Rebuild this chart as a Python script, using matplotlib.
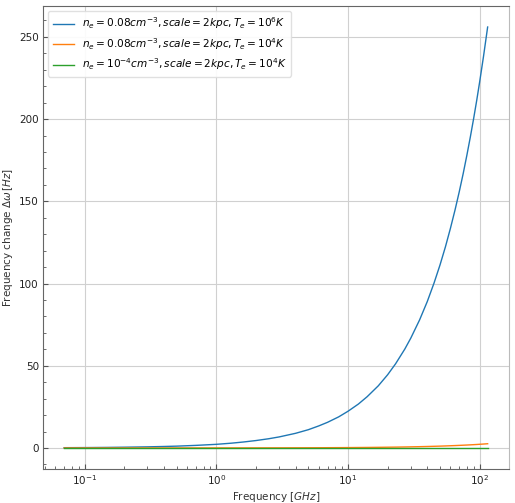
import matplotlib
matplotlib.use("Agg")
import matplotlib.pyplot as plt
from matplotlib.ticker import MultipleLocator

# Frequencies in GHz
freq = [0.07, 0.1, 0.15, 0.2, 0.3, 0.4, 0.5, 0.7, 1, 1.3, 1.6, 2, 2.5, 3, 4, 5,
        6, 7, 8.5, 10, 12, 14, 17, 20, 23, 27, 30, 35, 40, 45, 50, 55, 60, 65,
        70, 75, 80, 85, 90, 95, 100, 107, 115]
# Frequency change [Hz]
blue = [0.16, 0.22, 0.33, 0.45, 0.67, 0.89, 1.1, 1.56, 2.2, 2.9, 3.6, 4.5, 5.6,
        6.7, 8.9, 11.1, 13.4, 15.6, 18.9, 22.3, 26.7, 31.2, 37.8, 44.5, 51.2,
        60.1, 66.8, 77.9, 89.0, 100.2, 111.3, 122.4, 133.6, 144.7, 155.8,
        166.9, 178.1, 189.2, 200.3, 211.4, 222.6, 238.2, 256.0]
orange = [0.002, 0.002, 0.003, 0.005, 0.007, 0.009, 0.011, 0.016, 0.022, 0.03,
          0.036, 0.045, 0.056, 0.067, 0.089, 0.11, 0.13, 0.16, 0.19, 0.22, 0.27,
          0.31, 0.38, 0.45, 0.51, 0.6, 0.67, 0.78, 0.89, 1.0, 1.11, 1.22, 1.34,
          1.45, 1.56, 1.67, 1.78, 1.89, 2.0, 2.11, 2.23, 2.38, 2.56]
green = [0.0] * len(freq)

labels = [r'$n_e = 0.08cm^{-3}, scale = 2kpc, T_e = 10^6K$',
          r'$n_e = 0.08cm^{-3}, scale = 2kpc, T_e = 10^4K$',
          r'$n_e = 10^{-4}cm^{-3}, scale = 2kpc, T_e = 10^4K$']

fig = plt.figure(figsize=(5.15, 5.03), dpi=100)
ax = fig.add_axes([0.0835, 0.0676, 0.9045, 0.9205])

ax.plot(freq, blue, color='#1f77b4', lw=1.0, label=labels[0])
ax.plot(freq, orange, color='#ff7f0e', lw=1.0, label=labels[1])
ax.plot(freq, green, color='#2ca02c', lw=1.0, label=labels[2])

ax.set_xscale('log')
ax.set_xlabel(r'Frequency $[GHz]$', fontsize=7.5, color='#333333', labelpad=2)
ax.set_ylabel(r'Frequency change $\Delta\omega\,[Hz]$', fontsize=7.5,
              color='#333333', labelpad=3)

ax.yaxis.set_major_locator(MultipleLocator(50))
ax.yaxis.set_minor_locator(MultipleLocator(10))
ax.tick_params(which='both', direction='in', labelsize=7.5, colors='#555555',
               labelcolor='#222222', pad=3)
ax.tick_params(which='major', length=3.5)
ax.tick_params(which='minor', length=2)
ax.grid(True, which='major', color='#d0d0d0', lw=0.8)

for s in ['left', 'bottom', 'top']:
    ax.spines[s].set_color('#666666')
ax.spines['right'].set_color('#bbbbbb')

ax.legend(loc='upper left', fontsize=7.6, frameon=True, framealpha=0.9,
          edgecolor='#dddddd', handlelength=2.0, labelspacing=0.45)

fig.savefig('out.png', dpi=100)
